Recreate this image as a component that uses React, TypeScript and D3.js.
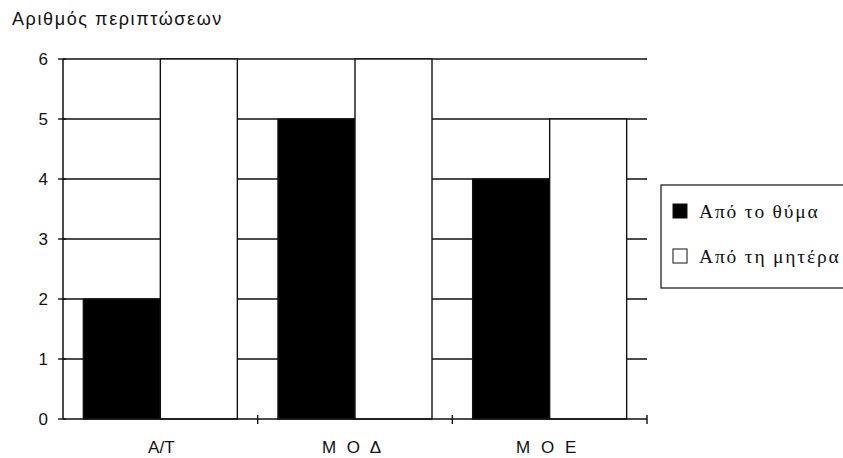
import React from "react";
import * as d3 from "d3";

const categories = ["A/T", "Μ Ο Δ", "Μ Ο Ε"];
const seriesNames = ["Από το θύμα", "Από τη μητέρα"];
const victimValues = [2, 5, 4];
const motherValues = [6, 6, 5];
const yTicks = [0, 1, 2, 3, 4, 5, 6];
const yTitle = "Αριθμός περιπτώσεων";
const seriesFills = ["#000", "#fff"];

const W = 843;
const H = 458;
const left = 63;
const right = 647;
const top = 59;
const bottom = 419;

export default function App() {
  const x = d3.scaleBand<string>().domain(categories).range([left, right]).padding(0);
  const bw = x.bandwidth();
  const sub = d3
    .scaleBand<string>()
    .domain(seriesNames)
    .range([0, bw])
    .paddingInner(0)
    .paddingOuter(0.264);
  const y = d3.scaleLinear().domain([0, 6]).range([bottom, top]);
  const series = [victimValues, motherValues];
  const sans = "'Liberation Sans', Arial, sans-serif";
  const serif = "'Liberation Serif', 'Times New Roman', serif";

  return (
    <svg
      width={W}
      height={H}
      style={{ position: "absolute", left: 0, top: 0, background: "#fff" }}
    >
      <rect x={0} y={0} width={W} height={H} fill="#fff" />
      <text x={12} y={25} fontFamily={sans} fontSize={18} letterSpacing={1.6} fill="#111">
        {yTitle}
      </text>
      {/* gridlines */}
      {yTicks.slice(1).map((t) => (
        <line
          key={"g" + t}
          x1={left}
          x2={right}
          y1={y(t)}
          y2={y(t)}
          stroke="#111"
          strokeWidth={1.4}
        />
      ))}
      {/* bars */}
      {categories.map((c, i) =>
        seriesNames.map((s, j) => {
          const v = series[j][i];
          return (
            <rect
              key={c + s}
              x={(x(c) ?? 0) + (sub(s) ?? 0)}
              y={y(v)}
              width={sub.bandwidth()}
              height={y(0) - y(v)}
              fill={seriesFills[j]}
              stroke="#111"
              strokeWidth={1.4}
            />
          );
        })
      )}
      {/* y axis */}
      <line x1={left} x2={left} y1={top} y2={bottom} stroke="#111" strokeWidth={1.5} />
      {yTicks.map((t) => (
        <g key={"t" + t}>
          <line x1={left - 5} x2={left + 3} y1={y(t)} y2={y(t)} stroke="#111" strokeWidth={1.4} />
          <text
            x={left - 15}
            y={y(t) + 6}
            textAnchor="end"
            fontFamily={sans}
            fontSize={17}
            fill="#111"
          >
            {t}
          </text>
        </g>
      ))}
      {/* x axis */}
      <line x1={left} x2={right} y1={bottom} y2={bottom} stroke="#111" strokeWidth={1.5} />
      {categories.map((c) => (
        <line
          key={"xt" + c}
          x1={(x(c) ?? 0) + bw}
          x2={(x(c) ?? 0) + bw}
          y1={bottom - 4}
          y2={bottom + 5}
          stroke="#111"
          strokeWidth={1.4}
        />
      ))}
      {categories.map((c, i) => (
        <text
          key={"xl" + c}
          x={(x(c) ?? 0) + bw / 2 - (i === 0 ? -1 : 2)}
          y={453}
          textAnchor="middle"
          fontFamily={sans}
          fontSize={17}
          letterSpacing={i === 0 ? 0 : 3}
          fill="#111"
        >
          {c}
        </text>
      ))}
      {/* legend */}
      <rect x={661} y={185} width={200} height={103} fill="#fff" stroke="#111" strokeWidth={1.2} />
      {seriesNames.map((s, j) => (
        <g key={"lg" + s}>
          <rect
            x={673}
            y={204 + j * 45}
            width={14}
            height={14}
            fill={seriesFills[j]}
            stroke="#111"
            strokeWidth={1}
          />
          <text x={699} y={218 + j * 45} fontFamily={serif} fontSize={19.5} letterSpacing={1.8} fill="#111">
            {s}
          </text>
        </g>
      ))}
    </svg>
  );
}
